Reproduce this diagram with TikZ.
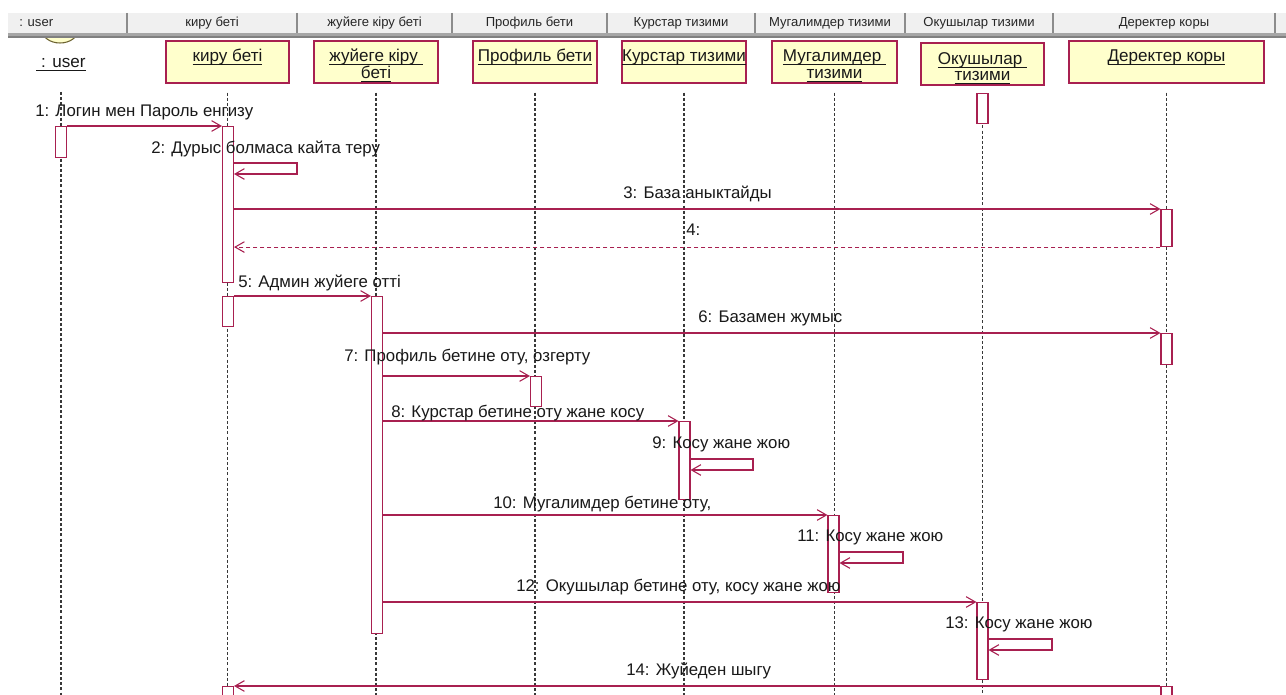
\documentclass[tikz,border=0pt]{standalone}
\usepackage{amsmath}
\usepackage{fontspec}
\setmainfont{Liberation Sans}
\usetikzlibrary{arrows.meta}
\definecolor{crim}{RGB}{168,32,80}
\definecolor{objfill}{RGB}{255,255,204}
\definecolor{hdrfill}{RGB}{240,240,240}
\definecolor{hdrline}{RGB}{150,150,150}
\definecolor{headline}{RGB}{110,100,50}
\newcommand\ulx[1]{\underline{\smash[b]{#1}}}
\begin{document}
\begin{tikzpicture}[x=0.75pt,y=-0.75pt,
  obj/.style={draw=crim, line width=0.9pt, fill=objfill, inner sep=0, minimum height=31.5pt},
  objtxt/.style={anchor=base, inner sep=0, font=\fontsize{12.8}{14}\selectfont, text=black!90},
  hdrtxt/.style={anchor=base, inner sep=0, font=\fontsize{9.8}{11}\selectfont, text=black!85},
  life/.style={draw=black!78, line width=1pt, dash pattern=on 2.25pt off 1.6pt},
  act/.style={draw=crim, fill=white, line width=0.8pt, minimum width=8.25pt, inner sep=0, anchor=north},
  msg/.style={draw=crim, line width=0.8pt, -{Straight Barb[length=7pt,width=8pt]}},
  ret/.style={msg, dash pattern=on 3pt off 2.25pt},
  lbl/.style={anchor=base west, inner sep=0, font=\fontsize{12.6}{14}\selectfont, text=black!90}
]
\useasboundingbox (0,0) rectangle (1286,695);
\fill[white] (0,0) rectangle (1286,695);
\coordinate (bot) at (0,695);

% user head (partly under header)
\draw[headline, fill=objfill, line width=0.8pt] (60,30) ellipse [x radius=18, y radius=13];

% header bar
\fill[hdrfill] (8,13) rectangle (1286,33);
\fill[black!35] (8,33) rectangle (1286,37);
\draw[black!50, line width=0.8pt] (8,37) -- (1286,37);
\foreach \sx in {127,297,452,607,755,905,1053,1275}{
  \draw[black!45, line width=1.5pt] (\sx,13) -- (\sx,33);
}
\node[hdrtxt, anchor=base west] (h1) at (19,27) {: user};
\node[hdrtxt] (h2) at (212,27) {киру беті};
\node[hdrtxt] (h3) at (374.5,27) {жуйеге кіру беті};
\node[hdrtxt] (h4) at (529.5,27) {Профиль бети};
\node[hdrtxt] (h5) at (681,27) {Курстар тизими};
\node[hdrtxt] (h6) at (830,27) {Мугалимдер тизими};
\node[hdrtxt] (h7) at (979,27) {Окушылар тизими};
\node[hdrtxt] (h8) at (1164,27) {Деректер коры};

% objects
\node[objtxt] (ut) at (61,68) {\ulx{\ : user}};
\node[obj, minimum width=92.25pt] (kb) at (227.5,62) {};
\node[obj, minimum width=93pt] (zb) at (376,62) {};
\node[obj, minimum width=93pt] (pb) at (535,62) {};
\node[obj, minimum width=93pt] (kub) at (684,62) {};
\node[obj, minimum width=93.75pt] (mb) at (834.5,62) {};
\node[obj, minimum width=92.25pt] (ob) at (982.5,64) {};
\node[obj, minimum width=146.25pt] (db) at (1166.5,62) {};
\node[objtxt] (kt) at (227.5,62) {\ulx{киру беті}};
\node[objtxt] (zt1) at (376,62) {\ulx{жуйеге кіру }};
\node[objtxt] (zt2) at (376,79) {\ulx{беті}};
\node[objtxt] (pt) at (535,62) {\ulx{Профиль бети}};
\node[objtxt] (kut) at (684,62) {\ulx{Курстар тизими}};
\node[objtxt] (mt1) at (834.5,62) {\ulx{Мугалимдер }};
\node[objtxt] (mt2) at (834.5,79) {\ulx{тизими}};
\node[objtxt] (ot1) at (982.5,65) {\ulx{Окушылар }};
\node[objtxt] (ot2) at (982.5,81) {\ulx{тизими}};
\node[objtxt] (dt) at (1166.5,62) {\ulx{Деректер коры}};

% lifelines
\coordinate (uls) at (61,92);
\draw[life] (uls) -- (uls |- bot);
\foreach \b in {kb,zb,pb,kub,mb,ob,db}{
  \draw[life] ([yshift=-6.75pt]\b.south) -- (\b.south |- bot);
}

% activations
\node[act, minimum height=23.25pt] (ua1) at (61,126) {};
\node[act, minimum height=117pt] (ka1) at (228,126) {};
\node[act, minimum height=22.5pt] (ka2) at (228,296) {};
\node[act, minimum height=15pt] (ka3) at (228,686) {};
\node[act, minimum height=252.75pt] (za1) at (377,296) {};
\node[act, minimum height=22.5pt] (pa1) at (536,376) {};
\node[act, minimum height=58.5pt] (kua1) at (684.5,421) {};
\node[act, minimum height=57.75pt] (ma1) at (833.5,515) {};
\node[act, minimum height=22.5pt] (oa0) at (982.5,93) {};
\node[act, minimum height=57.75pt] (oa1) at (982.5,602) {};
\node[act, minimum height=27.75pt] (da1) at (1166.5,209) {};
\node[act, minimum height=23.25pt] (da2) at (1166.5,333) {};
\node[act, minimum height=15pt] (da3) at (1166.5,686) {};

% messages
\draw[msg] (ua1.north east) -- (ka1.north west);
\coordinate (s2t) at (297,163); \coordinate (s2b) at (297,174);
\draw[msg] (ka1.east |- s2t) -- (s2t) -- (s2b) -- (ka1.east |- s2b);
\draw[msg] (ka1.east |- da1.north) -- (da1.north west);
\draw[ret] (da1.south west) -- (ka1.east |- da1.south);
\draw[msg] (ka2.north east) -- (za1.north west);
\draw[msg] (za1.east |- da2.north) -- (da2.north west);
\draw[msg] (za1.east |- pa1.north) -- (pa1.north west);
\draw[msg] (za1.east |- kua1.north) -- (kua1.north west);
\coordinate (s9t) at (753,459); \coordinate (s9b) at (753,470);
\draw[msg] (kua1.east |- s9t) -- (s9t) -- (s9b) -- (kua1.east |- s9b);
\draw[msg] (za1.east |- ma1.north) -- (ma1.north west);
\coordinate (s11t) at (903,552); \coordinate (s11b) at (903,563);
\draw[msg] (ma1.east |- s11t) -- (s11t) -- (s11b) -- (ma1.east |- s11b);
\draw[msg] (za1.east |- oa1.north) -- (oa1.north west);
\coordinate (s13t) at (1052,639); \coordinate (s13b) at (1052,650);
\draw[msg] (oa1.east |- s13t) -- (s13t) -- (s13b) -- (oa1.east |- s13b);
\draw[msg] (da3.north west) -- (ka3.north east);

% labels
\node[lbl] (l1) at (35,117) {1: Логин мен Пароль енгизу};
\node[lbl] (l2) at (151,154) {2: Дурыс болмаса кайта теру};
\node[lbl] (l3) at (623,199) {3: База аныктайды};
\node[lbl] (l4) at (686,236) {4:};
\node[lbl] (l5) at (238,288) {5: Админ жуйеге отті};
\node[lbl] (l6) at (698,323) {6: Базамен жумыс};
\node[lbl] (l7) at (344,362) {7: Профиль бетине оту, озгерту};
\node[lbl] (l8) at (391,417) {8: Курстар бетине оту жане косу};
\node[lbl] (l9) at (652,448) {9: Косу жане жою};
\node[lbl] (l10) at (493,508) {10: Мугалимдер бетине оту,};
\node[lbl] (l11) at (797,541) {11: Косу жане жою};
\node[lbl] (l12) at (516,591) {12: Окушылар бетине оту, косу жане жою};
\node[lbl] (l13) at (945,628) {13: Косу жане жою};
\node[lbl] (l14) at (626,675) {14: Жуйеден шыгу};
\end{tikzpicture}
\end{document}
